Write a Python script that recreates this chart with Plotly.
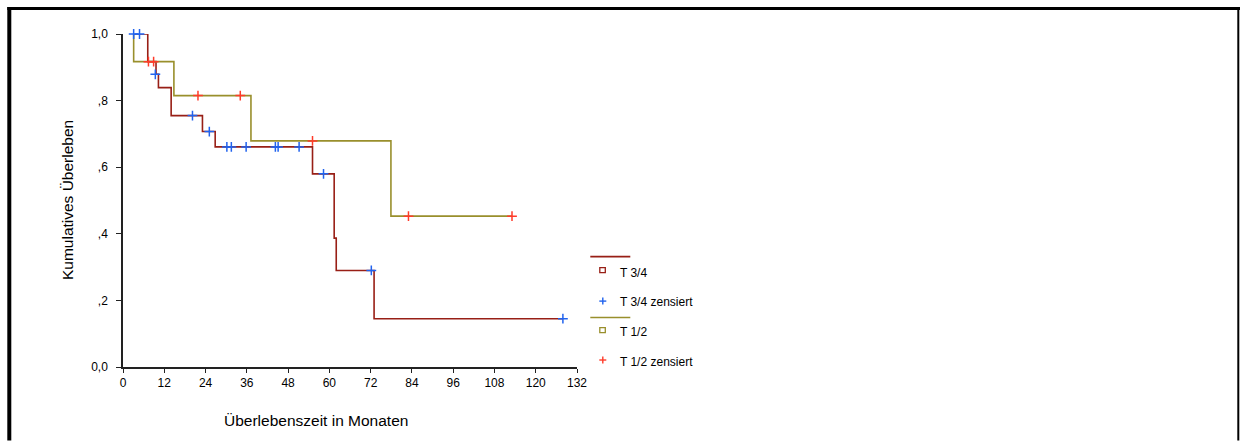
import plotly.graph_objects as go

# Kaplan-Meier step curves: time in months, cumulative survival after each step
t34_time = [3.1, 7.2, 9.6, 10.3, 14.0, 23.1, 26.8, 55.1, 61.4, 62.0, 73.0, 127.9]
t34_surv = [1.0, 0.917, 0.879, 0.839, 0.755, 0.707, 0.661, 0.580, 0.387, 0.290, 0.145, 0.145]

t12_time = [3.1, 3.1, 14.8, 37.2, 77.9, 113.1]
t12_surv = [1.0, 0.917, 0.815, 0.679, 0.453, 0.453]

# censored observations
t34_cens_time = [3.1, 4.8, 9.4, 20.2, 25.1, 30.2, 31.5, 35.8, 44.3, 45.1, 51.2, 58.3, 72.2, 127.9]
t34_cens_surv = [1.0, 1.0, 0.879, 0.755, 0.707, 0.661, 0.661, 0.661, 0.661, 0.661, 0.661, 0.580, 0.290, 0.145]

t12_cens_time = [7.4, 8.9, 21.8, 34.1, 55.1, 83.0, 113.1]
t12_cens_surv = [0.917, 0.917, 0.815, 0.815, 0.679, 0.453, 0.453]

x_ticks = [0, 12, 24, 36, 48, 60, 72, 84, 96, 108, 120, 132]
y_ticks = [0.0, 0.2, 0.4, 0.6, 0.8, 1.0]
y_tick_text = ["0,0", ",2", ",4", ",6", ",8", "1,0"]

legend_labels = ["T 3/4", "T 3/4 zensiert", "T 1/2", "T 1/2 zensiert"]

C34 = "#981f16"
C12 = "#998f2c"
CBLUE = "#2163ee"
CRED = "#ff3b2a"
FONT = "Liberation Sans, Arial, sans-serif"

W, H = 1240, 441
L, R, T, B = 122.7, 576.7, 34.0, 367.5
PW, PH = R - L, B - T


def px(x):
    return (x - L) / PW


def py(y):
    return (B - y) / PH


fig = go.Figure()
fig.add_trace(go.Scatter(x=t34_time, y=t34_surv, mode="lines", line=dict(color=C34, width=1.6, shape="hv"),
                         showlegend=False, cliponaxis=False))
fig.add_trace(go.Scatter(x=t12_time, y=t12_surv, mode="lines", line=dict(color=C12, width=1.6, shape="hv"),
                         showlegend=False, cliponaxis=False))
fig.add_trace(go.Scatter(x=t34_cens_time, y=t34_cens_surv, mode="markers",
                         marker=dict(symbol="cross-thin", size=7, line=dict(color=CBLUE, width=1.5)),
                         showlegend=False, cliponaxis=False))
fig.add_trace(go.Scatter(x=t12_cens_time, y=t12_cens_surv, mode="markers",
                         marker=dict(symbol="cross-thin", size=7, line=dict(color=CRED, width=1.5)),
                         showlegend=False, cliponaxis=False))

shapes = []
annotations = []

# outer frame (left, top, right)
shapes.append(dict(type="rect", xref="paper", yref="paper", x0=px(7), x1=px(11), y0=py(441), y1=py(7),
                   fillcolor="black", line=dict(width=0)))
shapes.append(dict(type="rect", xref="paper", yref="paper", x0=px(7), x1=px(1240), y0=py(10), y1=py(7),
                   fillcolor="black", line=dict(width=0)))
shapes.append(dict(type="rect", xref="paper", yref="paper", x0=px(1237), x1=px(1239), y0=py(441), y1=py(7),
                   fillcolor="black", line=dict(width=0)))

# legend
shapes.append(dict(type="line", xref="paper", yref="paper", x0=px(590), x1=px(630), y0=py(257), y1=py(257),
                   line=dict(color=C34, width=1.6)))
shapes.append(dict(type="rect", xref="paper", yref="paper", x0=px(599.5), x1=px(605), y0=py(273), y1=py(268),
                   line=dict(color=C34, width=1.3), fillcolor="white"))
shapes.append(dict(type="line", xref="paper", yref="paper", x0=px(599), x1=px(606), y0=py(301.5), y1=py(301.5),
                   line=dict(color=CBLUE, width=1.4)))
shapes.append(dict(type="line", xref="paper", yref="paper", x0=px(602.5), x1=px(602.5), y0=py(298), y1=py(305),
                   line=dict(color=CBLUE, width=1.4)))
shapes.append(dict(type="line", xref="paper", yref="paper", x0=px(590), x1=px(630), y0=py(318), y1=py(318),
                   line=dict(color=C12, width=1.6)))
shapes.append(dict(type="rect", xref="paper", yref="paper", x0=px(599.5), x1=px(605), y0=py(333), y1=py(328),
                   line=dict(color=C12, width=1.3), fillcolor="white"))
shapes.append(dict(type="line", xref="paper", yref="paper", x0=px(599), x1=px(606), y0=py(360.5), y1=py(360.5),
                   line=dict(color=CRED, width=1.4)))
shapes.append(dict(type="line", xref="paper", yref="paper", x0=px(602.5), x1=px(602.5), y0=py(357), y1=py(364),
                   line=dict(color=CRED, width=1.4)))

for label, ypos in zip(legend_labels, [273, 302, 332, 362]):
    annotations.append(dict(text=label, xref="paper", yref="paper", x=px(618), y=py(ypos), xanchor="left",
                            yanchor="middle", showarrow=False, font=dict(family=FONT, size=12, color="black")))

# axis titles
annotations.append(dict(text="Kumulatives Überleben", xref="paper", yref="paper", x=px(67), y=py(200),
                        textangle=-90, showarrow=False, xanchor="center", yanchor="middle",
                        font=dict(family=FONT, size=15.5, color="black")))
annotations.append(dict(text="Überlebenszeit in Monaten", xref="paper", yref="paper", x=px(316), y=py(421),
                        showarrow=False, xanchor="center", yanchor="middle",
                        font=dict(family=FONT, size=15.5, color="black")))

fig.update_layout(
    width=W, height=H,
    margin=dict(l=L, r=W - R, t=T, b=H - B, pad=0),
    paper_bgcolor="white", plot_bgcolor="white",
    shapes=shapes, annotations=annotations,
    showlegend=False,
    font=dict(family=FONT, size=12, color="black"),
)
fig.update_xaxes(range=[0, 132], tickvals=x_ticks, ticktext=[str(v) for v in x_ticks],
                 showgrid=False, zeroline=False, showline=True, linecolor="#222", linewidth=1.5,
                 ticks="outside", ticklen=4, tickwidth=1.3, tickcolor="#222",
                 tickfont=dict(family=FONT, size=12, color="black"))
fig.update_yaxes(range=[0, 1], tickvals=y_ticks, ticktext=y_tick_text,
                 showgrid=False, zeroline=False, showline=True, linecolor="#222", linewidth=1.5,
                 ticks="outside", ticklen=5, tickwidth=1.3, tickcolor="#222",
                 ticklabelstandoff=6,
                 tickfont=dict(family=FONT, size=12, color="black"))

fig.write_html("out.html")
